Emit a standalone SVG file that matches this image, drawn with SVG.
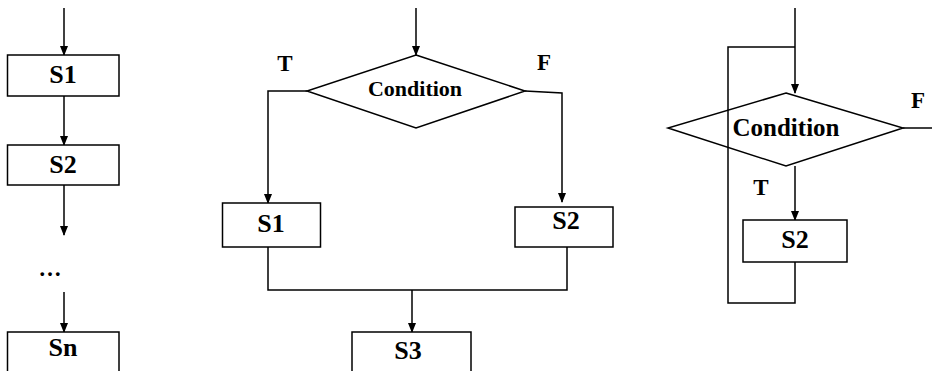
<svg xmlns="http://www.w3.org/2000/svg" width="932" height="371" viewBox="0 0 932 371">
<defs>
<style>
.s{fill:none;stroke:#000;stroke-width:1.5}
.b{fill:#fff;stroke:#000;stroke-width:1.5}
.t{font-family:"Liberation Serif","Times New Roman",serif;font-weight:bold;fill:#000;text-anchor:middle}
.l{font-size:26px}
.tf{font-size:23px}
</style>
<marker id="ah" markerWidth="10" markerHeight="10" refX="9" refY="5" orient="auto" markerUnits="userSpaceOnUse">
<path d="M0,1 L10,5 L0,9 Z" fill="#000"/>
</marker>
</defs>
<rect width="932" height="371" fill="#fff"/>
<g id="connectors">
<line class="s" x1="64" y1="8" x2="64" y2="55" marker-end="url(#ah)"/>
<line class="s" x1="64" y1="96" x2="64" y2="145" marker-end="url(#ah)"/>
<line class="s" x1="64" y1="185" x2="64" y2="235" marker-end="url(#ah)"/>
<line class="s" x1="64" y1="292" x2="64" y2="332" marker-end="url(#ah)"/>
<line class="s" x1="416" y1="8" x2="416" y2="55" marker-end="url(#ah)"/>
<polyline class="s" points="307,91 268,91 268,203" marker-end="url(#ah)"/>
<polyline class="s" points="525,91 562,93 562,202" marker-end="url(#ah)"/>
<polyline class="s" points="268,247 268,290 567,290 567,247"/>
<line class="s" x1="412" y1="290" x2="412" y2="332" marker-end="url(#ah)"/>
<line class="s" x1="795" y1="8" x2="795" y2="93" marker-end="url(#ah)"/>
<polyline class="s" points="795,47 728,47 728,303 795,303 795,262"/>
<line class="s" x1="795" y1="166" x2="795" y2="220" marker-end="url(#ah)"/>
<line class="s" x1="903" y1="128" x2="932" y2="128"/>
</g>
<g id="seq-s1"><rect class="b" x="7.5" y="55" width="111.5" height="41"/><text class="t l" x="63" y="83">S1</text></g>
<g id="seq-s2"><rect class="b" x="7.5" y="145" width="111.5" height="40"/><text class="t l" x="63" y="173">S2</text></g>
<g id="seq-dots"><text class="t tf" x="50" y="276">…</text></g>
<g id="seq-sn"><rect class="b" x="7.5" y="332" width="111.5" height="45"/><text class="t l" x="63" y="356">Sn</text></g>
<g id="if-cond"><polygon class="b" points="416,55 525,91 416,128 307,91"/><text class="t" x="415" y="96" font-size="22">Condition</text></g>
<g id="if-t"><text class="t tf" x="285" y="71">T</text></g>
<g id="if-f"><text class="t tf" x="544" y="70">F</text></g>
<g id="if-s1"><rect class="b" x="222.5" y="203" width="98" height="44"/><text class="t l" x="271" y="232">S1</text></g>
<g id="if-s2"><rect class="b" x="515" y="207" width="98" height="40"/><text class="t l" x="566" y="229">S2</text></g>
<g id="if-s3"><rect class="b" x="352" y="332" width="119" height="45"/><text class="t l" x="408" y="359">S3</text></g>
<g id="loop-cond"><polygon class="s" points="786,93 903,128 786,166 668,128"/><text class="t" x="786" y="136" font-size="25">Condition</text></g>
<g id="loop-f"><text class="t tf" x="918" y="108">F</text></g>
<g id="loop-t"><text class="t tf" x="761" y="195">T</text></g>
<g id="loop-s2"><rect class="b" x="743" y="220" width="104" height="42"/><text class="t l" x="795" y="248">S2</text></g>
</svg>
